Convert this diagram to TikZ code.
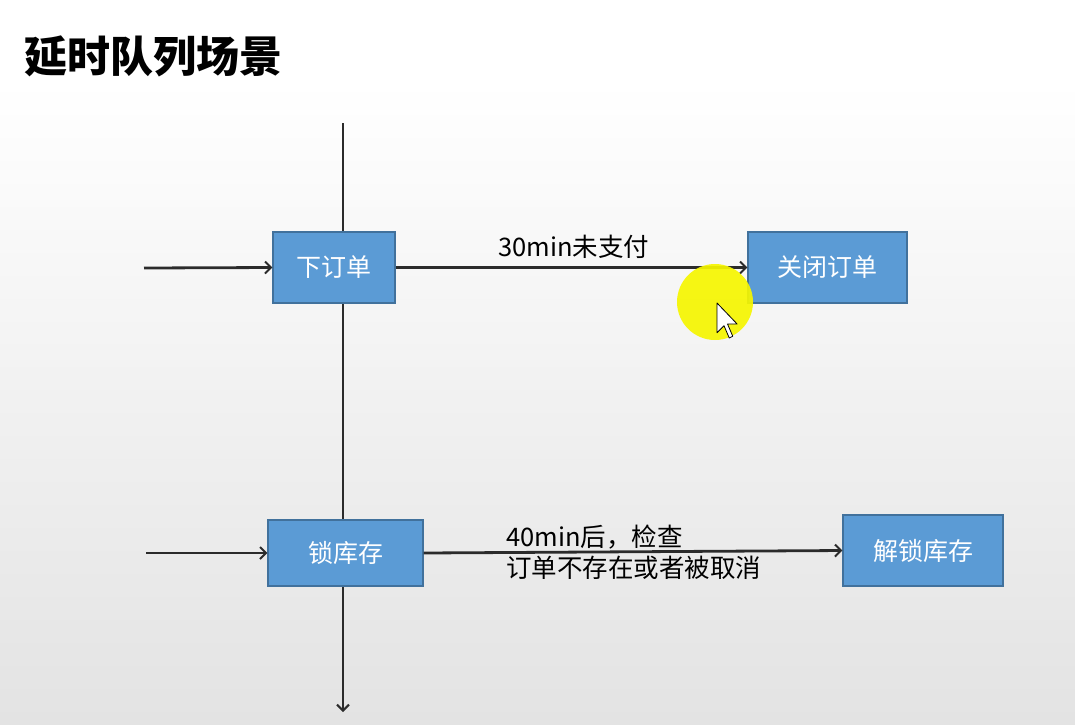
\documentclass[tikz,border=0pt]{standalone}
\usepackage{fontspec}
\newfontfamily\cjk{Noto Sans CJK SC}
\usetikzlibrary{arrows.meta}
\definecolor{boxfill}{HTML}{5B9BD5}
\definecolor{boxline}{HTML}{41719C}
\definecolor{linecol}{HTML}{2B2B2B}
\definecolor{hilite}{HTML}{F6F600}
\tikzset{
  box/.style={draw=boxline, line width=1.2pt, fill=boxfill, text=white, inner sep=0pt,
    font=\cjk\fontsize{25}{29}\selectfont},
  flow/.style={draw=linecol, line width=2.8pt, -{Straight Barb[length=6pt,width=12pt,line width=2pt]}},
  lbl/.style={inner sep=0pt, text=black, font=\cjk\fontsize{25.5}{31}\selectfont, align=left}
}
\begin{document}
\begin{tikzpicture}[x=1pt,y=-1pt]
\useasboundingbox (0,0) rectangle (1075,724);
\fill[white] (0,0) rectangle (1075,80);
\shade[top color=white, bottom color=black!11] (0,80) rectangle (1075,724);

\node[anchor=west, inner sep=0pt, font=\cjk\bfseries\fontsize{43}{50}\selectfont] (title) at (24,56) {延时队列场景};

\coordinate (vt) at (343,123);
\coordinate (vb) at (343,712);
\coordinate (in1) at (144,268);
\coordinate (in2) at (146,553);

\draw[flow] (vt) -- (vb);

\node[box, minimum width=122pt, minimum height=71pt] (order) at (334,267.5) {下订单};
\node[box, minimum width=159pt, minimum height=71pt] (close) at (827.5,267.5) {关闭订单};
\node[box, minimum width=155pt, minimum height=66pt] (lock) at (345.5,553) {锁库存};
\node[box, minimum width=160pt, minimum height=71pt] (unlock) at (923,550.5) {解锁库存};

\draw[flow] (in1) -- (order.west);
\draw[flow] (in2) -- (lock.west);
\draw[flow] (order.east) -- (close.west);
\draw[flow] (lock.east) -- (unlock.west);

\node[lbl, anchor=west] (l1) at (498,247) {30min未支付};
\node[lbl, anchor=north west] (l2) at (506,525) {40min后，检查\\订单不存在或者被取消};

% screen-recording highlight and pointer
\fill[hilite, opacity=0.92] (715,302) circle (38);
\begin{scope}[shift={(717,303)}, scale=1.75]
\filldraw[fill=white, draw=black, line width=0.8pt, line join=round]
  (0,0) -- (0,17) -- (4,13) -- (7,20) -- (9,19) -- (6,12) -- (11.5,12) -- cycle;
\end{scope}
\end{tikzpicture}
\end{document}
